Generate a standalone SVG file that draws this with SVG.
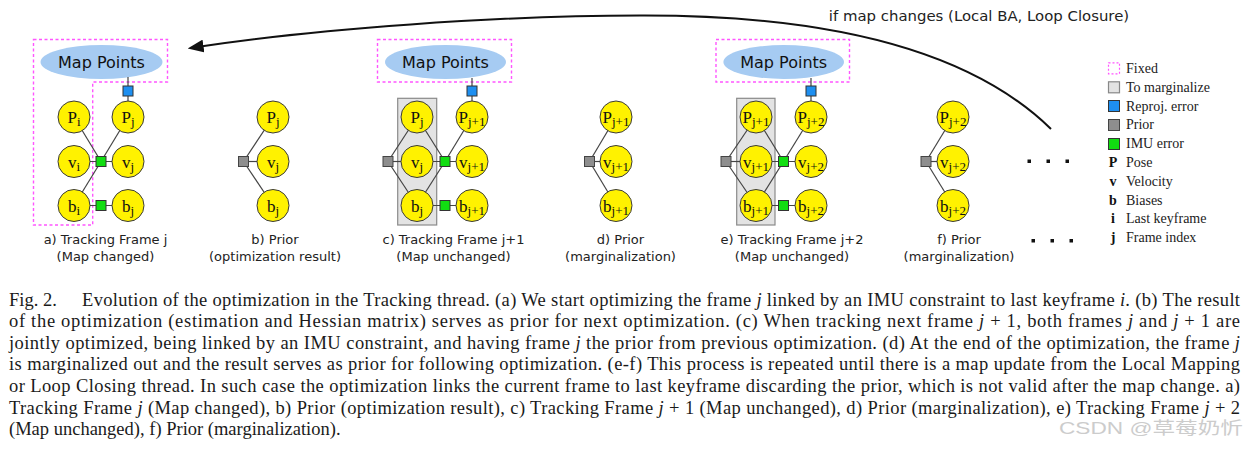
<svg xmlns="http://www.w3.org/2000/svg" width="1251" height="450" viewBox="0 0 1251 450">
<style>
.var{fill:#fff200;stroke:#3a3a3a;stroke-width:1}
.fixed{fill:none;stroke:#ff55ff;stroke-width:1.4;stroke-dasharray:3 2.5}
.fixedl{fill:#fff;stroke:#ff55ff;stroke-width:1.2;stroke-dasharray:2 2}
.marg{fill:#e3e3e3;stroke:#8a8a8a;stroke-width:1.2}
.mp{fill:#a6cbf2}
.reproj{fill:#1e8ff0;stroke:#333;stroke-width:1}
.prior{fill:#8e8e8e;stroke:#444;stroke-width:1}
.imu{fill:#11dd11;stroke:#333;stroke-width:1}
.edge{stroke:#444;stroke-width:1.2;fill:none}
.lbl{font-family:"DejaVu Sans",sans-serif;font-size:13px;text-anchor:middle;fill:#222}
.mpt{font-family:"DejaVu Sans",sans-serif;font-size:16px;text-anchor:middle;fill:#111}
.vl{font-family:"Liberation Serif",serif;font-size:17px;text-anchor:middle;fill:#111}
.sub{font-size:13px}
.leg{font-family:"Liberation Serif",serif;font-size:14px;fill:#222}
.legb{font-family:"Liberation Serif",serif;font-size:14px;font-weight:bold;text-anchor:middle;fill:#111}
.cap{font-family:"Liberation Serif",serif;font-size:18.5px;fill:#1a1a1a}
.dot{fill:#111}
</style>
<defs>
<marker id="ah" markerUnits="userSpaceOnUse" markerWidth="16" markerHeight="13" viewBox="0 0 16 13" refX="3" refY="6.5" orient="auto">
<path d="M0,0 L16,6.5 L0,13 z" fill="#111"/>
</marker>
</defs>

<!-- background regions -->
<g id="fixed-a"><path class="fixed" d="M33.5,39.5 H167.5 V82 H92.7 V225 H33.5 Z"/></g>
<g id="fixed-c"><rect class="fixed" x="377.5" y="39.5" width="134" height="42.5"/></g>
<g id="fixed-e"><rect class="fixed" x="716" y="39.5" width="133.5" height="42.5"/></g>
<g id="marg-c"><rect class="marg" x="397.7" y="98.3" width="39" height="126.7"/></g>
<g id="marg-e"><rect class="marg" x="736.7" y="98.3" width="38.3" height="126.7"/></g>

<g id="mappoints-a"><ellipse class="mp" cx="101.5" cy="62" rx="61" ry="17"/><text class="mpt" x="101.5" y="67.5">Map Points</text></g>
<g id="mappoints-c"><ellipse class="mp" cx="445.5" cy="62" rx="60.5" ry="17"/><text class="mpt" x="445.5" y="67.5">Map Points</text></g>
<g id="mappoints-e"><ellipse class="mp" cx="783.7" cy="62" rx="60.3" ry="17"/><text class="mpt" x="783.7" y="67.5">Map Points</text></g>

<!-- connectors -->
<g id="connectors">
<line class="edge" x1="128" y1="77" x2="128" y2="117"/>
<line class="edge" x1="74" y1="117" x2="101" y2="161.5"/>
<line class="edge" x1="74" y1="205.5" x2="101" y2="161.5"/>
<line class="edge" x1="128" y1="117" x2="101" y2="161.5"/>
<line class="edge" x1="74" y1="161.5" x2="128" y2="161.5"/>
<line class="edge" x1="74" y1="205.5" x2="128" y2="205.5"/>

<line class="edge" x1="243.5" y1="161.5" x2="273" y2="117"/>
<line class="edge" x1="243.5" y1="161.5" x2="273" y2="161.5"/>
<line class="edge" x1="243.5" y1="161.5" x2="273" y2="205.5"/>

<line class="edge" x1="472" y1="78" x2="472" y2="117"/>
<line class="edge" x1="388" y1="161.5" x2="417" y2="117"/>
<line class="edge" x1="388" y1="161.5" x2="417" y2="161.5"/>
<line class="edge" x1="388" y1="161.5" x2="417" y2="205.5"/>
<line class="edge" x1="445" y1="161.5" x2="417" y2="117"/>
<line class="edge" x1="445" y1="161.5" x2="417" y2="205.5"/>
<line class="edge" x1="445" y1="161.5" x2="472" y2="117"/>
<line class="edge" x1="417" y1="161.5" x2="472" y2="161.5"/>
<line class="edge" x1="417" y1="205.5" x2="472" y2="205.5"/>

<line class="edge" x1="589.5" y1="161.5" x2="616" y2="117"/>
<line class="edge" x1="589.5" y1="161.5" x2="616" y2="161.5"/>
<line class="edge" x1="589.5" y1="161.5" x2="616" y2="205.5"/>

<line class="edge" x1="811" y1="78" x2="811" y2="117"/>
<line class="edge" x1="726" y1="161.5" x2="756" y2="117"/>
<line class="edge" x1="726" y1="161.5" x2="756" y2="161.5"/>
<line class="edge" x1="726" y1="161.5" x2="756" y2="205.5"/>
<line class="edge" x1="783.5" y1="161.5" x2="756" y2="117"/>
<line class="edge" x1="783.5" y1="161.5" x2="756" y2="205.5"/>
<line class="edge" x1="783.5" y1="161.5" x2="811" y2="117"/>
<line class="edge" x1="756" y1="161.5" x2="811" y2="161.5"/>
<line class="edge" x1="756" y1="205.5" x2="811" y2="205.5"/>

<line class="edge" x1="926" y1="161.5" x2="953" y2="117"/>
<line class="edge" x1="926" y1="161.5" x2="953" y2="161.5"/>
<line class="edge" x1="926" y1="161.5" x2="953" y2="205.5"/>

<path id="loop-arrow" d="M1051,129 C960,40 800,15 640,15.5 C500,15.5 315,29 200.5,46.5" fill="none" stroke="#111" stroke-width="2" marker-end="url(#ah)"/>
<text x="979" y="20.5" style="font-family:'DejaVu Sans',sans-serif;font-size:14.9px;text-anchor:middle;fill:#222">if map changes (Local BA, Loop Closure)</text>
</g>

<!-- factor squares -->
<g id="factors">
<rect class="reproj" x="123" y="86" width="10" height="10"/>
<rect class="imu" x="96" y="156.5" width="10" height="10"/>
<rect class="imu" x="96" y="200.5" width="10" height="10"/>
<rect class="prior" x="238.5" y="156.5" width="10" height="10"/>
<rect class="reproj" x="467" y="86" width="10" height="10"/>
<rect class="prior" x="383" y="156.5" width="10" height="10"/>
<rect class="imu" x="440" y="156.5" width="10" height="10"/>
<rect class="imu" x="440" y="200.5" width="10" height="10"/>
<rect class="prior" x="584.5" y="156.5" width="10" height="10"/>
<rect class="reproj" x="806" y="86" width="10" height="10"/>
<rect class="prior" x="721" y="156.5" width="10" height="10"/>
<rect class="imu" x="778.5" y="156.5" width="10" height="10"/>
<rect class="imu" x="778.5" y="200.5" width="10" height="10"/>
<rect class="prior" x="921" y="156.5" width="10" height="10"/>
</g>

<!-- panel a -->
<g id="a-Pi"><circle class="var" cx="74" cy="117" r="16"/><text class="vl" x="74" y="123">P<tspan class="sub" dy="3">i</tspan></text></g>
<g id="a-vi"><circle class="var" cx="74" cy="161.5" r="16"/><text class="vl" x="74" y="167.5">v<tspan class="sub" dy="3">i</tspan></text></g>
<g id="a-bi"><circle class="var" cx="74" cy="205.5" r="16"/><text class="vl" x="74" y="211.5">b<tspan class="sub" dy="3">i</tspan></text></g>
<g id="a-Pj"><circle class="var" cx="128" cy="117" r="16"/><text class="vl" x="128" y="123">P<tspan class="sub" dy="3">j</tspan></text></g>
<g id="a-vj"><circle class="var" cx="128" cy="161.5" r="16"/><text class="vl" x="128" y="167.5">v<tspan class="sub" dy="3">j</tspan></text></g>
<g id="a-bj"><circle class="var" cx="128" cy="205.5" r="16"/><text class="vl" x="128" y="211.5">b<tspan class="sub" dy="3">j</tspan></text></g>

<!-- panel b -->
<g id="b-Pj"><circle class="var" cx="273" cy="117" r="16"/><text class="vl" x="273" y="123">P<tspan class="sub" dy="3">j</tspan></text></g>
<g id="b-vj"><circle class="var" cx="273" cy="161.5" r="16"/><text class="vl" x="273" y="167.5">v<tspan class="sub" dy="3">j</tspan></text></g>
<g id="b-bj"><circle class="var" cx="273" cy="205.5" r="16"/><text class="vl" x="273" y="211.5">b<tspan class="sub" dy="3">j</tspan></text></g>

<!-- panel c -->
<g id="c-Pj"><circle class="var" cx="417" cy="117" r="16"/><text class="vl" x="417" y="123">P<tspan class="sub" dy="3">j</tspan></text></g>
<g id="c-vj"><circle class="var" cx="417" cy="161.5" r="16"/><text class="vl" x="417" y="167.5">v<tspan class="sub" dy="3">j</tspan></text></g>
<g id="c-bj"><circle class="var" cx="417" cy="205.5" r="16"/><text class="vl" x="417" y="211.5">b<tspan class="sub" dy="3">j</tspan></text></g>
<g id="c-Pj1"><circle class="var" cx="472" cy="117" r="16"/><text class="vl" x="472" y="123">P<tspan class="sub" dy="3">j+1</tspan></text></g>
<g id="c-vj1"><circle class="var" cx="472" cy="161.5" r="16"/><text class="vl" x="472" y="167.5">v<tspan class="sub" dy="3">j+1</tspan></text></g>
<g id="c-bj1"><circle class="var" cx="472" cy="205.5" r="16"/><text class="vl" x="472" y="211.5">b<tspan class="sub" dy="3">j+1</tspan></text></g>

<!-- panel d -->
<g id="d-Pj1"><circle class="var" cx="616" cy="117" r="16"/><text class="vl" x="616" y="123">P<tspan class="sub" dy="3">j+1</tspan></text></g>
<g id="d-vj1"><circle class="var" cx="616" cy="161.5" r="16"/><text class="vl" x="616" y="167.5">v<tspan class="sub" dy="3">j+1</tspan></text></g>
<g id="d-bj1"><circle class="var" cx="616" cy="205.5" r="16"/><text class="vl" x="616" y="211.5">b<tspan class="sub" dy="3">j+1</tspan></text></g>

<!-- panel e -->
<g id="e-Pj1"><circle class="var" cx="756" cy="117" r="16"/><text class="vl" x="756" y="123">P<tspan class="sub" dy="3">j+1</tspan></text></g>
<g id="e-vj1"><circle class="var" cx="756" cy="161.5" r="16"/><text class="vl" x="756" y="167.5">v<tspan class="sub" dy="3">j+1</tspan></text></g>
<g id="e-bj1"><circle class="var" cx="756" cy="205.5" r="16"/><text class="vl" x="756" y="211.5">b<tspan class="sub" dy="3">j+1</tspan></text></g>
<g id="e-Pj2"><circle class="var" cx="811" cy="117" r="16"/><text class="vl" x="811" y="123">P<tspan class="sub" dy="3">j+2</tspan></text></g>
<g id="e-vj2"><circle class="var" cx="811" cy="161.5" r="16"/><text class="vl" x="811" y="167.5">v<tspan class="sub" dy="3">j+2</tspan></text></g>
<g id="e-bj2"><circle class="var" cx="811" cy="205.5" r="16"/><text class="vl" x="811" y="211.5">b<tspan class="sub" dy="3">j+2</tspan></text></g>

<!-- panel f -->
<g id="f-Pj2"><circle class="var" cx="953" cy="117" r="16"/><text class="vl" x="953" y="123">P<tspan class="sub" dy="3">j+2</tspan></text></g>
<g id="f-vj2"><circle class="var" cx="953" cy="161.5" r="16"/><text class="vl" x="953" y="167.5">v<tspan class="sub" dy="3">j+2</tspan></text></g>
<g id="f-bj2"><circle class="var" cx="953" cy="205.5" r="16"/><text class="vl" x="953" y="211.5">b<tspan class="sub" dy="3">j+2</tspan></text></g>

<!-- ellipsis dots -->
<g id="dots">
<rect class="dot" x="1027.5" y="159.5" width="3.5" height="3.5"/>
<rect class="dot" x="1046.5" y="159.5" width="3.5" height="3.5"/>
<rect class="dot" x="1065.5" y="159.5" width="3.5" height="3.5"/>
<rect class="dot" x="1031.5" y="239" width="3.5" height="3.5"/>
<rect class="dot" x="1050.5" y="239" width="3.5" height="3.5"/>
<rect class="dot" x="1069.5" y="239" width="3.5" height="3.5"/>
</g>

<!-- panel labels -->
<g id="labels">
<text class="lbl" x="105.5" y="244">a) Tracking Frame j</text>
<text class="lbl" x="105.5" y="260.5">(Map changed)</text>
<text class="lbl" x="275" y="244">b) Prior</text>
<text class="lbl" x="275" y="260.5">(optimization result)</text>
<text class="lbl" x="453.5" y="244">c) Tracking Frame j+1</text>
<text class="lbl" x="453.5" y="260.5">(Map unchanged)</text>
<text class="lbl" x="620.5" y="244">d) Prior</text>
<text class="lbl" x="620.5" y="260.5">(marginalization)</text>
<text class="lbl" x="792" y="244">e) Tracking Frame j+2</text>
<text class="lbl" x="792" y="260.5">(Map unchanged)</text>
<text class="lbl" x="959" y="244">f) Prior</text>
<text class="lbl" x="959" y="260.5">(marginalization)</text>
</g>

<!-- legend -->
<g id="legend">
<rect class="fixedl" x="1108.5" y="62.8" width="11" height="11"/>
<text class="leg" x="1126" y="73">Fixed</text>
<rect x="1108.5" y="81.8" width="11" height="11" fill="#e3e3e3" stroke="#888" stroke-width="1.2"/>
<text class="leg" x="1126" y="91.8">To marginalize</text>
<rect class="reproj" x="1108.5" y="100.5" width="11" height="11"/>
<text class="leg" x="1126" y="110.6">Reproj. error</text>
<rect class="prior" x="1108.5" y="119.5" width="11" height="11"/>
<text class="leg" x="1126" y="129.4">Prior</text>
<rect class="imu" x="1108.5" y="138.5" width="11" height="11"/>
<text class="leg" x="1126" y="148.2">IMU error</text>
<text class="legb" x="1113" y="167">P</text>
<text class="leg" x="1126" y="167">Pose</text>
<text class="legb" x="1113" y="185.8">v</text>
<text class="leg" x="1126" y="185.8">Velocity</text>
<text class="legb" x="1113" y="204.6">b</text>
<text class="leg" x="1126" y="204.6">Biases</text>
<text class="legb" x="1113" y="223.4">i</text>
<text class="leg" x="1126" y="223.4">Last keyframe</text>
<text class="legb" x="1113" y="242.2">j</text>
<text class="leg" x="1126" y="242.2">Frame index</text>
</g>

<!-- caption -->
<g id="caption" class="cap">
<text x="9" y="305.5">Fig. 2.</text>
<text x="82" y="305.5" textLength="1158" lengthAdjust="spacing">Evolution of the optimization in the Tracking thread. (a) We start optimizing the frame <tspan font-style="italic">j</tspan> linked by an IMU constraint to last keyframe <tspan font-style="italic">i</tspan>. (b) The result</text>
<text x="9" y="327" textLength="1231" lengthAdjust="spacing">of the optimization (estimation and Hessian matrix) serves as prior for next optimization. (c) When tracking next frame <tspan font-style="italic">j</tspan> + 1, both frames <tspan font-style="italic">j</tspan> and <tspan font-style="italic">j</tspan> + 1 are</text>
<text x="9" y="348.7" textLength="1231" lengthAdjust="spacing">jointly optimized, being linked by an IMU constraint, and having frame <tspan font-style="italic">j</tspan> the prior from previous optimization. (d) At the end of the optimization, the frame <tspan font-style="italic">j</tspan></text>
<text x="9" y="370.3" textLength="1231" lengthAdjust="spacing">is marginalized out and the result serves as prior for following optimization. (e-f) This process is repeated until there is a map update from the Local Mapping</text>
<text x="9" y="392" textLength="1231" lengthAdjust="spacing">or Loop Closing thread. In such case the optimization links the current frame to last keyframe discarding the prior, which is not valid after the map change. a)</text>
<text x="9" y="413.6" textLength="1231" lengthAdjust="spacing">Tracking Frame <tspan font-style="italic">j</tspan> (Map changed), b) Prior (optimization result), c) Tracking Frame <tspan font-style="italic">j</tspan> + 1 (Map unchanged), d) Prior (marginalization), e) Tracking Frame <tspan font-style="italic">j</tspan> + 2</text>
<text x="9" y="435.2">(Map unchanged), f) Prior (marginalization).</text>
</g>

<g id="watermark">
<text x="1059" y="434" textLength="184" lengthAdjust="spacingAndGlyphs" style="font-family:'Liberation Sans','Noto Sans CJK SC',sans-serif;font-size:17px;fill:#cccccc">CSDN @草莓奶忻</text>
</g>
</svg>
